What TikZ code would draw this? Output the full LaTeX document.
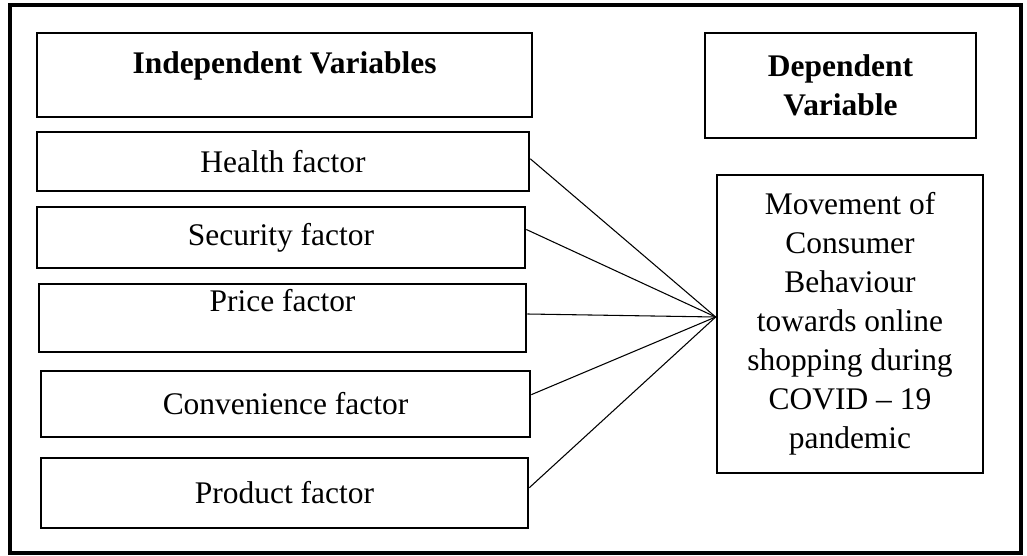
\documentclass[tikz,border=0pt]{standalone}
\usepackage{fontspec}
\setmainfont{Liberation Serif}
\usepackage{tikz}
\usetikzlibrary{positioning}

\begin{document}
\begin{tikzpicture}[x=0.75pt, y=-0.75pt,
  font=\fontsize{23.6}{29.25}\selectfont,
  box/.style={draw, line width=2pt, rectangle, inner sep=0pt, align=center},
  head/.style={box, font=\fontsize{23.6}{29.25}\selectfont\bfseries},
  link/.style={line width=0.8pt}]
  \useasboundingbox (0,0) rectangle (1027,556);
  \draw[line width=3pt] (10,5) rectangle (1021,553);
  \node[head, minimum width=371.25pt, minimum height=63pt, text depth=18pt] (indep) at (284.5,75) {Independent Variables};
  \node[head, minimum width=203.25pt, minimum height=78.75pt] (dep) at (840.5,85.5) {Dependent\\Variable};
  \node[box, minimum width=369pt, minimum height=44.25pt] (health) at (283,161.5) {Health factor};
  \node[box, minimum width=366pt, minimum height=45.75pt] (security) at (281,237.5) {Security factor};
  \node[box, minimum width=365.25pt, minimum height=51pt, text depth=27pt] (price) at (282.5,318) {Price factor};
  \node[box, minimum width=366.75pt, minimum height=49.5pt] (conv) at (285.5,404) {Convenience factor};
  \node[box, minimum width=365.25pt, minimum height=52.5pt] (product) at (284.5,493) {Product factor};
  \node[box, minimum width=199.5pt, minimum height=223.5pt] (move) at (850,324) {Movement of\\Consumer\\Behaviour\\towards online\\shopping during\\COVID -- 19\\pandemic};
  \coordinate (hub) at ([yshift=5.25pt]move.west);
  \draw[link] ([yshift=2pt]health.east) -- (hub);
  \draw[link] ([yshift=6pt]security.east) -- (hub);
  \draw[link] ([yshift=3pt]price.east) -- (hub);
  \draw[link] ([yshift=7pt]conv.east) -- (hub);
  \draw[link] ([yshift=4pt]product.east) -- (hub);
\end{tikzpicture}
\end{document}
